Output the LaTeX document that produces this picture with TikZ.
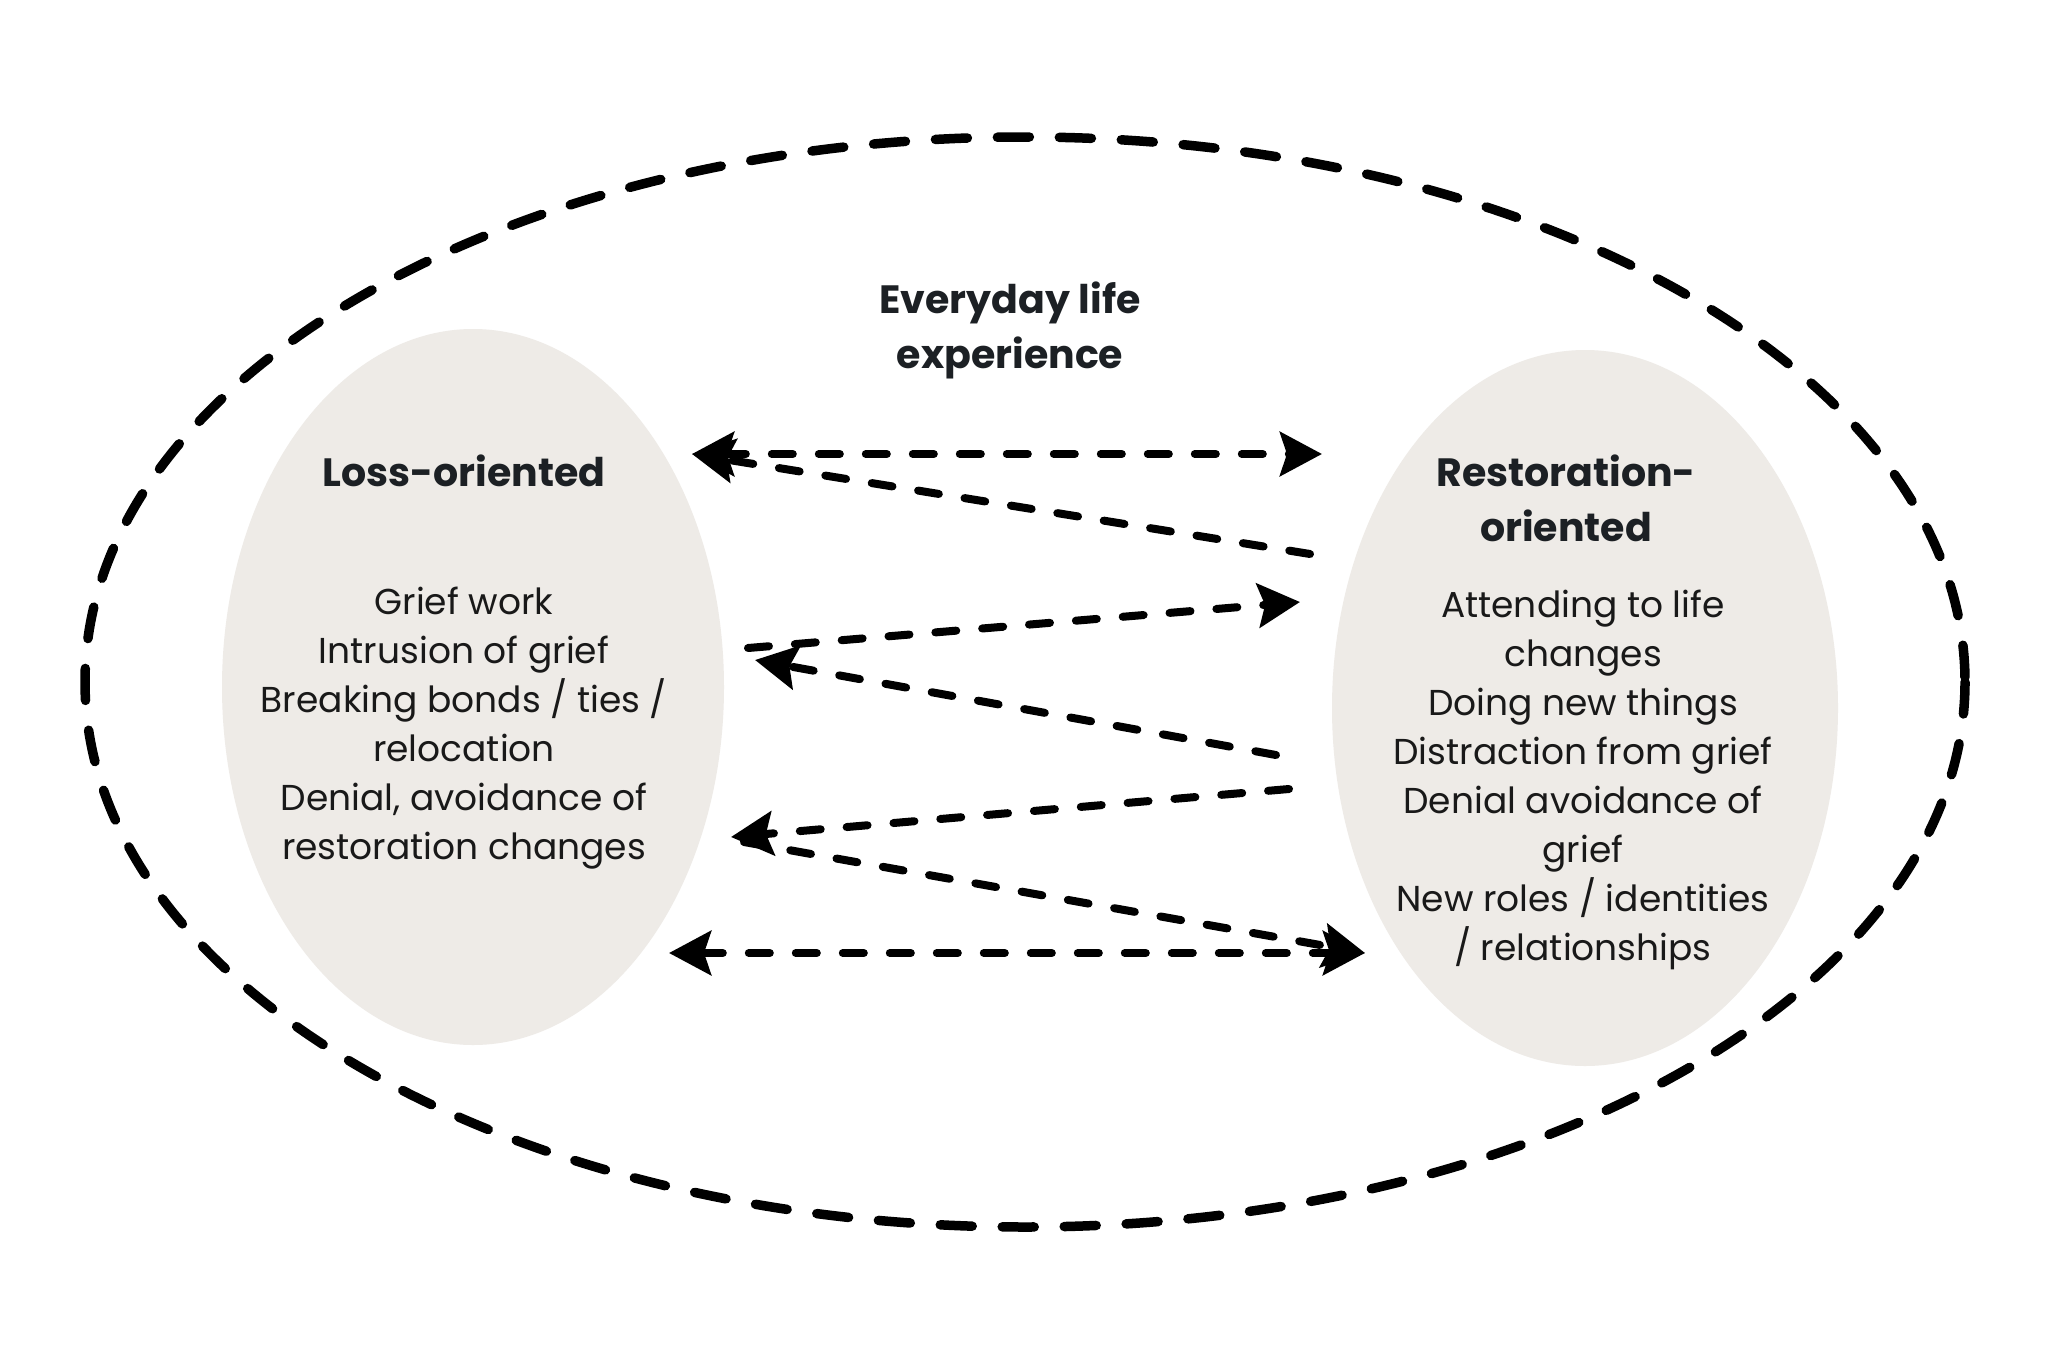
\documentclass[tikz,border=0pt]{standalone}
\usepackage{fontspec}
\setmainfont{Poppins}
\usetikzlibrary{positioning,arrows.meta}
\definecolor{PaleStone}{RGB}{238,235,231}
\definecolor{InkDark}{RGB}{28,32,36}
\tikzset{
  ring/.style={draw=black,line width=9.5pt,line cap=round,dash pattern=on 32pt off 30pt},
  blob/.style={fill=PaleStone},
  flow/.style={draw=black,line width=8pt,line cap=round,dash pattern=on 21pt off 26pt,
    -{Stealth[length=42pt,width=44pt,inset=7pt]}},
  twoway/.style={flow,{Stealth[length=42pt,width=44pt,inset=7pt]}-{Stealth[length=42pt,width=44pt,inset=7pt]}},
  head/.style={font=\fontsize{39.5}{55}\selectfont\bfseries,text=InkDark,align=center},
  item/.style={font=\fontsize{36}{49}\selectfont,text=black!90,align=center},
}

\begin{document}
\begin{tikzpicture}[x=1pt,y=-1pt]
\useasboundingbox[fill=white] (0,0) rectangle (2048,1365);
% outer frame and the two sides
\draw[ring] (1025,682) ellipse [x radius=940,y radius=545];
\fill[blob] (473,687) ellipse [x radius=251,y radius=358];
\fill[blob] (1585,708) ellipse [x radius=253,y radius=358];
\node[head] (life) at (1010,330) {Everyday life\\experience};
\node[head] (loss) at (464,471) {Loss-oriented};
\node[item] (losslist) at (464,728) {Grief work\\Intrusion of grief\\Breaking bonds / ties /\\relocation\\Denial, avoidance of\\restoration changes};
\node[head] (rest) at (1566,498) {Restoration-\\oriented};
\node[item] (restlist) at (1583,780) {Attending to life\\changes\\Doing new things\\Distraction from grief\\Denial avoidance of\\grief\\New roles / identities\\/ relationships};
% oscillation
\coordinate (L1) at (692,454);  \coordinate (R1) at (1322,454);
\coordinate (R2) at (1310,554);
\coordinate (L3) at (748,648);  \coordinate (R3) at (1300,602);
\coordinate (R4) at (1276,755); \coordinate (L4) at (755,660);
\coordinate (R5) at (1289,789); \coordinate (L5) at (731,837);
\coordinate (L6) at (744,842);
\coordinate (L7) at (669,953);  \coordinate (R7) at (1365,953);
\draw[twoway] (L1) -- (R1);
\foreach \a/\b in {R2/L1,L3/R3,R4/L4,R5/L5,L6/R7}
  \draw[flow] (\a) -- (\b);
\draw[twoway] (L7) -- (R7);
\end{tikzpicture}
\end{document}
